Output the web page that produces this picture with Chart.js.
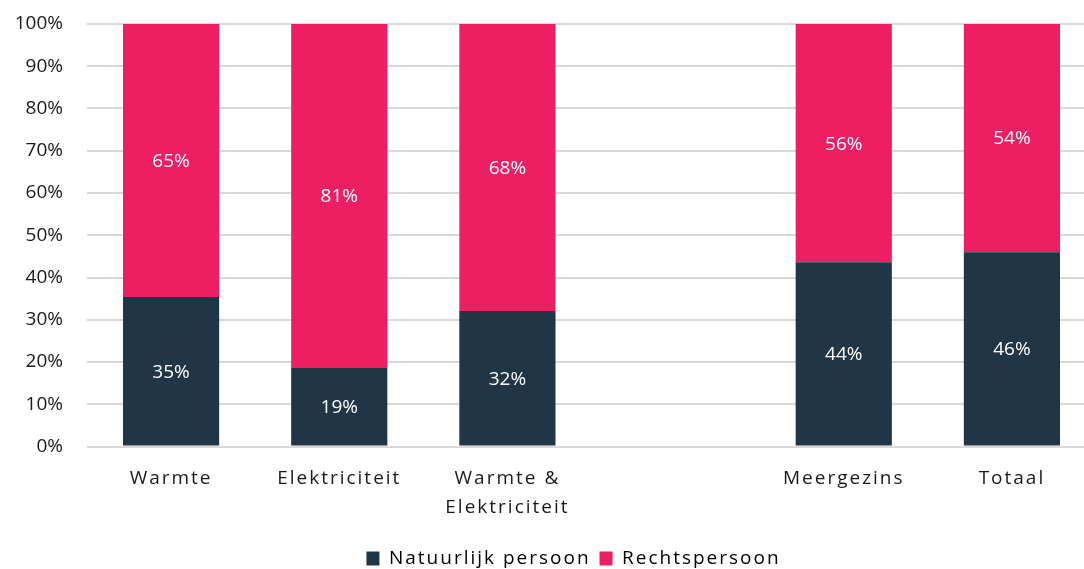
<!DOCTYPE html>
<html>
<head>
<meta charset="utf-8">
<script src="https://cdn.jsdelivr.net/npm/chart.js@4/dist/chart.umd.min.js"></script>
<style>
  html, body { margin: 0; padding: 0; background: #fff; overflow: hidden; }
  #wrap { width: 1096px; height: 569px; position: relative; }
</style>
</head>
<body>
<div id="wrap"><canvas id="chart"></canvas></div>
<script>
// categories (empty slot between the groups)
const categories = ['Warmte', 'Elektriciteit', ['Warmte &', 'Elektriciteit'], '', 'Meergezins', 'Totaal'];
const natuurlijk = [35.4, 18.6, 32.1, null, 43.6, 46.0];
const rechts = [64.6, 81.4, 67.9, null, 56.4, 54.0];
const yTicks = [0, 10, 20, 30, 40, 50, 60, 70, 80, 90, 100];

const DARK = '#203646';
const PINK = '#ED1F63';
const FONT = "'Open Sans', 'Noto Sans', sans-serif";

// run fn with letter spacing switched on
function spaced(ctx, px, fn) {
  const old = ctx.letterSpacing;
  ctx.letterSpacing = px;
  const r = fn();
  ctx.letterSpacing = old || '0px';
  return r;
}

// value labels in the middle of each segment
const segmentLabels = {
  id: 'segmentLabels',
  afterDatasetsDraw(chart) {
    const ctx = chart.ctx;
    ctx.save();
    ctx.font = '19px ' + FONT;
    ctx.fillStyle = '#ffffff';
    ctx.textAlign = 'center';
    ctx.textBaseline = 'middle';
    chart.data.datasets.forEach((ds, i) => {
      const meta = chart.getDatasetMeta(i);
      meta.data.forEach((bar, j) => {
        const v = ds.data[j];
        if (v == null) return;
        const p = bar.getCenterPoint();
        ctx.fillText(Math.round(v) + '%', p.x, p.y + 1);
      });
    });
    ctx.restore();
  }
};

// the x labels and the legend are letter-spaced like the original,
// and the legend sits a bit lower and right of the canvas centre
const spacing = {
  id: 'spacing',
  beforeUpdate(chart) {
    const lg = chart.legend;
    if (lg && !lg._spaced) {
      const fit = lg.fit, draw = lg.draw;
      lg.fit = function () { return spaced(chart.ctx, '2px', () => fit.apply(this, arguments)); };
      lg.draw = function () {
        const ctx = chart.ctx;
        ctx.save();
        ctx.translate(29, 9);
        const r = spaced(ctx, '2px', () => draw.apply(this, arguments));
        ctx.restore();
        return r;
      };
      lg._spaced = true;
    }
  }
};

new Chart(document.getElementById('chart'), {
  type: 'bar',
  data: {
    labels: categories,
    datasets: [
      { label: 'Natuurlijk persoon', data: natuurlijk, backgroundColor: DARK,
        barPercentage: 1, categoryPercentage: 0.572 },
      { label: 'Rechtspersoon', data: rechts, backgroundColor: PINK,
        barPercentage: 1, categoryPercentage: 0.572 }
    ]
  },
  options: {
    responsive: true,
    maintainAspectRatio: false,
    animation: false,
    layout: { padding: { top: 24, right: 0, bottom: 0, left: 0 } },
    plugins: {
      tooltip: { enabled: false },
      legend: {
        position: 'bottom',
        labels: {
          font: { family: FONT, size: 19 },
          color: '#1a1a1a',
          boxWidth: 13,
          boxHeight: 14,
          padding: 2,
          generateLabels(chart) {
            return chart.data.datasets.map((ds, i) => ({
              text: ds.label + ' ',
              fillStyle: ds.backgroundColor,
              strokeStyle: ds.backgroundColor,
              lineWidth: 0,
              datasetIndex: i
            }));
          }
        }
      }
    },
    scales: {
      x: {
        stacked: true,
        grid: { display: false, drawTicks: false },
        border: { display: false },
        afterFit(scale) {
          scale.height = 91.5;
          if (!scale._spaced) {
            const dl = scale.drawLabels;
            scale.drawLabels = function () { return spaced(this.ctx, '2px', () => dl.apply(this, arguments)); };
            scale._spaced = true;
          }
        },
        ticks: { font: { family: FONT, size: 19, lineHeight: 1.55 }, color: '#1a1a1a', padding: 17, maxRotation: 0, autoSkip: false }
      },
      y: {
        stacked: true,
        min: 0,
        max: 100,
        afterFit(scale) { scale.width = 87; },
        afterBuildTicks(scale) { scale.ticks = yTicks.map(v => ({ value: v })); },
        grid: { color: '#d9d9d9', lineWidth: 2, drawTicks: true, tickLength: 24, tickColor: 'rgba(0,0,0,0)' },
        border: { display: false },
        ticks: {
          font: { family: FONT, size: 19 },
          color: '#1a1a1a',
          padding: 0,
          callback: v => v + '%'
        }
      }
    }
  },
  plugins: [segmentLabels, spacing]
});
</script>
</body>
</html>
